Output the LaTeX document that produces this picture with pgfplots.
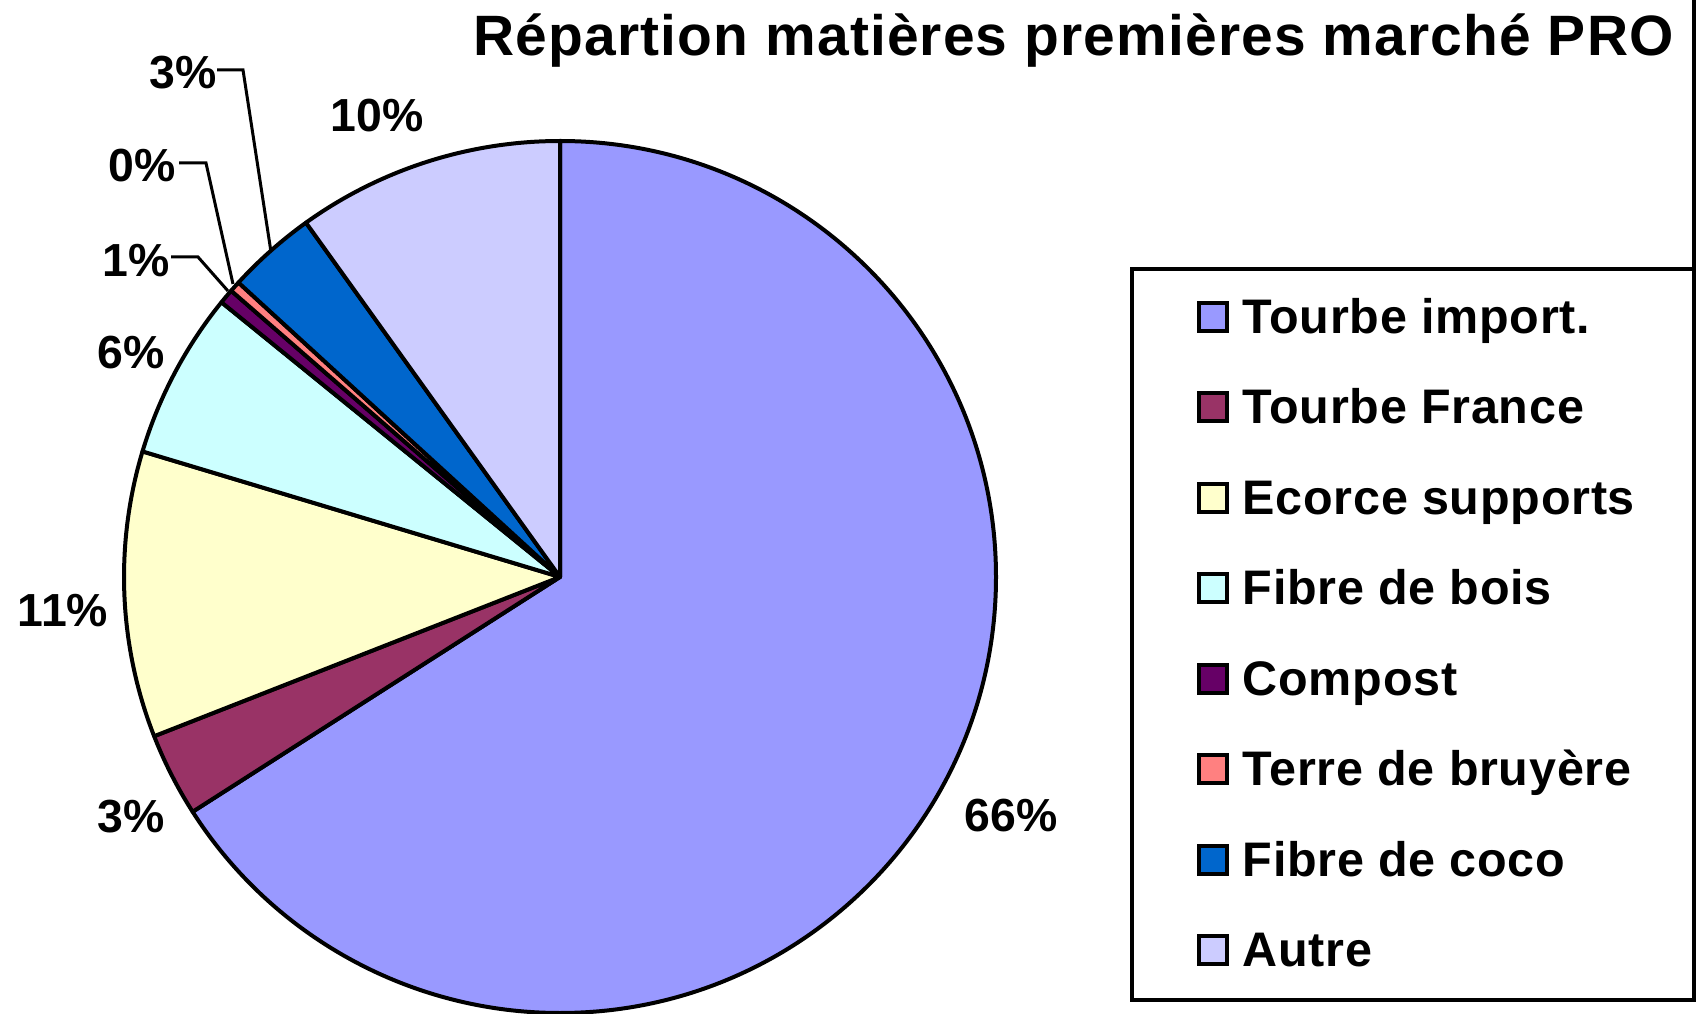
\documentclass[border=0pt]{standalone}
\usepackage{pgfplots}
\usepackage{pgfplotstable}
\pgfplotsset{compat=1.18}
\usepackage{fontspec}
\setmainfont{Liberation Sans}
\newfontfamily\titlefont[LetterSpace=2]{Liberation Sans}
\newfontfamily\legendfont[LetterSpace=1.5]{Liberation Sans}

\definecolor{c0}{HTML}{9999FF}
\definecolor{c1}{HTML}{993366}
\definecolor{c2}{HTML}{FFFFCC}
\definecolor{c3}{HTML}{CCFFFF}
\definecolor{c4}{HTML}{660066}
\definecolor{c5}{HTML}{FF8080}
\definecolor{c6}{HTML}{0066CC}
\definecolor{c7}{HTML}{CCCCFF}

% shares (percent), in legend order
\pgfplotstableread{
idx value
0 65.95
1 3.10
2 10.60
3 6.20
4 0.55
5 0.40
6 3.30
7 9.90
}\piedata

\newcommand{\lblfont}{\fontsize{13.2}{15}\selectfont\bfseries}
\newcommand{\legfont}{\legendfont\fontsize{13.8}{16}\selectfont\bfseries}
\newcommand{\legentry}[3]{%
  \draw[fill=#1,line width=0.35mm] (axis cs:1199,#2-14) rectangle (axis cs:1227,#2+14);
  \node[anchor=base west,inner sep=0,font=\legfont] at (axis cs:1242,#2+17) {#3};}

\begin{document}
\begin{tikzpicture}
\xdef\cum{0}
\pgfplotsforeachungrouped \i in {0,...,7}{%
  \pgfplotstablegetelem{\i}{value}\of\piedata
  \let\pv\pgfplotsretval
  \pgfmathsetmacro\sa{90-3.6*\cum}%
  \pgfmathsetmacro\ea{90-3.6*(\cum+\pv)}%
  \expandafter\xdef\csname ps\i\endcsname{\sa}%
  \expandafter\xdef\csname pe\i\endcsname{\ea}%
  \pgfmathsetmacro\newcum{\cum+\pv}%
  \xdef\cum{\newcum}%
}
\begin{axis}[width=170mm,height=101.4mm,scale only axis,
  xmin=0,xmax=1700,ymin=0,ymax=1014,y dir=reverse,
  hide axis,clip=false]
\pgfplotsforeachungrouped \i in {0,...,7}{%
  \edef\temp{\noexpand\filldraw[fill=c\i,draw=black,line width=0.4mm,line join=round]
    (axis cs:560,577) -- ++(\csname ps\i\endcsname:43.6mm)
    arc[start angle=\csname ps\i\endcsname,end angle=\csname pe\i\endcsname,radius=43.6mm] -- cycle;}%
  \temp
}
% title
\node[anchor=base west,inner sep=0,font=\titlefont\fontsize{16.2}{19}\selectfont\bfseries] at (axis cs:473,56) {Répartion matières premières marché PRO};
% data labels
\node[anchor=base,inner sep=0,font=\lblfont] at (axis cs:1011,832) {66\%};
\node[anchor=base,inner sep=0,font=\lblfont] at (axis cs:131,833) {3\%};
\node[anchor=base,inner sep=0,font=\lblfont] at (axis cs:63,627) {11\%};
\node[anchor=base,inner sep=0,font=\lblfont] at (axis cs:131,369) {6\%};
\node[anchor=base,inner sep=0,font=\lblfont] at (axis cs:136,277) {1\%};
\node[anchor=base,inner sep=0,font=\lblfont] at (axis cs:142,182) {0\%};
\node[anchor=base,inner sep=0,font=\lblfont] at (axis cs:183,89) {3\%};
\node[anchor=base,inner sep=0,font=\lblfont] at (axis cs:377,132) {10\%};
% leader lines
\draw[line width=0.3mm] (axis cs:171,257) -- (axis cs:198,257) -- (axis cs:228,291);
\draw[line width=0.3mm] (axis cs:179,163) -- (axis cs:206,163) -- (axis cs:233,284);
\draw[line width=0.3mm] (axis cs:217,70) -- (axis cs:243,70) -- (axis cs:271,252);
% frame edge and legend
\draw[line width=0.35mm] (axis cs:1694,0) -- (axis cs:1694,269);
\draw[line width=0.35mm] (axis cs:1132,269) rectangle (axis cs:1694,1000);
\legentry{c0}{317}{Tourbe import.}
\legentry{c1}{407}{Tourbe France}
\legentry{c2}{498}{Ecorce supports}
\legentry{c3}{588}{Fibre de bois}
\legentry{c4}{679}{Compost}
\legentry{c5}{769}{Terre de bruyère}
\legentry{c6}{860}{Fibre de coco}
\legentry{c7}{950}{Autre}
\end{axis}
\pgfresetboundingbox
\path (0,0) rectangle (170mm,101.4mm);
\end{tikzpicture}
\end{document}
